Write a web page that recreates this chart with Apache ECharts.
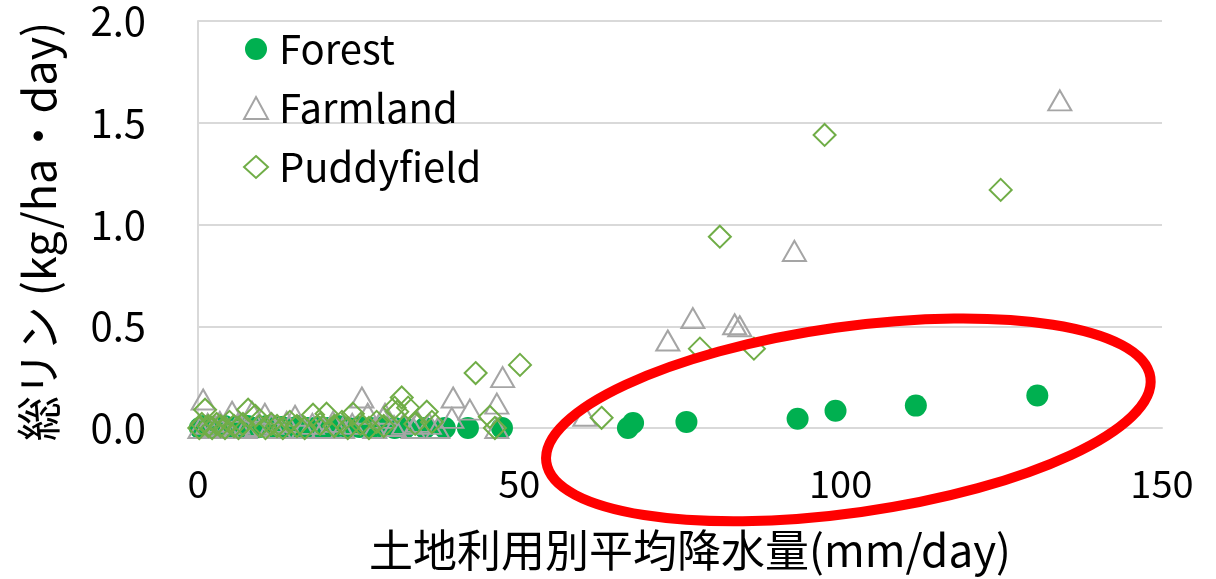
<!DOCTYPE html>
<html><head><meta charset="utf-8">
<script src="https://cdn.jsdelivr.net/npm/echarts@6/dist/echarts.min.js"></script>
<style>html,body{margin:0;padding:0;background:#fff}#c{width:1216px;height:579px}</style>
</head><body><div id="c"></div>
<script>
const seriesNames = ['Forest', 'Farmland', 'Puddyfield'];
const xTicks = [0, 50, 100, 150];
const yTicks = ['0.0', '0.5', '1.0', '1.5', '2.0'];
const xTitle = '土地利用別平均降水量(mm/day)';
const yTitle = '総リン (kg/ha・day)';

const forest = [[0.3,0.0],[0.9,0.01],[1.6,0.0],[2.4,0.005],[3.3,0.0],[4.1,0.01],[5.0,0.0],[5.9,0.005],[6.8,0.0],[7.7,0.01],[8.6,0.0],[9.6,0.005],[10.7,0.01],[11.8,0.0],[13.0,0.005],[14.3,0.0],[15.7,0.01],[17.1,0.0],[18.6,0.005],[20.2,0.0],[21.8,0.01],[23.4,0.0],[25.1,0.005],[26.9,0.0],[28.8,0.005],[30.6,0.0],[32.2,0.0],[35.3,0.0],[38.4,0.0],[42.0,0.0],[47.3,0.0],[66.9,0.0],[67.7,0.025],[76.0,0.03],[93.3,0.045],[99.2,0.085],[111.7,0.11],[130.6,0.16]];

const farmland = [[0.3,0.0],[0.8,0.14],[1.5,0.02],[2.6,0.01],[3.4,0.03],[4.5,0.0],[5.3,0.08],[6.2,0.02],[7.4,0.0],[8.4,0.08],[9.2,0.01],[10.4,0.07],[11.5,0.02],[12.6,0.0],[13.8,0.03],[15.1,0.06],[16.4,0.0],[17.8,0.02],[19.5,0.0],[21.0,0.03],[22.5,0.0],[24.0,0.02],[25.5,0.15],[26.4,0.07],[27.5,0.0],[28.8,0.05],[29.1,0.07],[30.5,0.01],[32.0,0.02],[33.5,0.0],[34.2,0.03],[36.0,0.02],[37.3,0.0],[39.5,0.05],[39.7,0.15],[42.3,0.09],[46.5,0.12],[46.5,0.0],[47.4,0.25],[60.2,0.06],[73.1,0.43],[77.0,0.54],[83.5,0.51],[84.3,0.50],[92.8,0.87],[134.1,1.61]];

const puddyfield = [[0.2,0.0],[0.6,0.02],[1.1,0.09],[1.6,0.01],[2.2,0.0],[2.9,0.02],[3.5,0.01],[4.2,0.0],[4.9,0.03],[5.6,0.01],[6.3,0.0],[7.0,0.02],[7.8,0.09],[8.9,0.06],[9.6,0.01],[10.5,0.0],[11.4,0.02],[12.3,0.01],[13.2,0.0],[14.3,0.03],[15.4,0.01],[16.6,0.0],[17.9,0.065],[19.0,0.02],[20.0,0.07],[21.2,0.01],[22.4,0.03],[23.3,0.0],[24.1,0.07],[25.3,0.02],[26.6,0.0],[27.8,0.03],[28.9,0.01],[30.6,0.1],[31.0,0.08],[31.7,0.15],[32.7,0.1],[33.8,0.02],[35.6,0.08],[36.4,0.03],[43.2,0.27],[45.4,0.055],[46.2,0.0],[50.1,0.31],[62.8,0.05],[78.1,0.39],[81.2,0.94],[86.5,0.39],[97.5,1.44],[124.9,1.17]];

// annotation ellipse (data-space center)
const ellipseCenter = [101.2, 0.04];

const chart = echarts.init(document.getElementById('c'), null, {renderer: 'canvas'});
const font = '"Noto Sans CJK JP", "Noto Sans", sans-serif';
const option = {
  backgroundColor: '#fff',
  animation: false,
  textStyle: {fontFamily: font},
  grid: {left: 198, right: 54, top: 21, bottom: 151, containLabel: false, outerBoundsMode: 'none'},
  legend: {
    orient: 'vertical', left: 238, top: 24, itemGap: 19,
    itemWidth: 24, itemHeight: 22,
    textStyle: {fontSize: 40, color: '#000', fontFamily: font, padding: [0, 0, 0, 6]},
    data: seriesNames
  },
  xAxis: {
    type: 'value', min: 0, max: 150, interval: 50,
    name: xTitle, nameLocation: 'middle', nameGap: 100,
    nameTextStyle: {fontSize: 44, color: '#000', fontFamily: font, padding: [0, 0, 0, 20]},
    axisLine: {show: true, lineStyle: {color: '#D9D9D9', width: 2}},
    axisTick: {show: false},
    splitLine: {show: false},
    axisLabel: {fontSize: 38, color: '#000', margin: 37, fontFamily: font,
      formatter: v => xTicks.includes(v) ? String(v) : ''}
  },
  yAxis: {
    type: 'value', min: 0, max: 2, interval: 0.5,
    name: yTitle, nameLocation: 'middle', nameGap: 137,
    nameTextStyle: {fontSize: 45, color: '#000', fontFamily: font, padding: [0, 14, 0, 0]},
    axisLine: {show: true, lineStyle: {color: '#D9D9D9', width: 2}},
    axisTick: {show: false},
    splitLine: {show: true, lineStyle: {color: '#D9D9D9', width: 2}},
    axisLabel: {fontSize: 40, color: '#000', margin: 52, fontFamily: font,
      formatter: v => yTicks[Math.round(v / 0.5)]}
  },
  series: [
    {name: seriesNames[0], type: 'scatter', data: forest, symbol: 'circle', symbolSize: 22,
     itemStyle: {color: '#00B050', opacity: 1}, z: 2},
    {name: seriesNames[1], type: 'scatter', data: farmland, symbol: 'triangle', symbolSize: [23, 20],
     itemStyle: {color: 'rgba(255,255,255,0)', borderColor: '#A5A5A5', borderWidth: 2, opacity: 1}, z: 3},
    {name: seriesNames[2], type: 'scatter', data: puddyfield, symbol: 'diamond', symbolSize: 22,
     itemStyle: {color: 'rgba(255,255,255,0)', borderColor: '#70AD47', borderWidth: 2, opacity: 1}, z: 4}
  ]
};
chart.setOption(option);
const c = chart.convertToPixel({gridIndex: 0}, ellipseCenter);
chart.setOption({
  graphic: [{
    type: 'ellipse', x: c[0], y: c[1], rotation: 8 * Math.PI / 180,
    shape: {cx: 0, cy: 0, rx: 305, ry: 93},
    style: {fill: 'none', stroke: '#FF0000', lineWidth: 10},
    z: 100, silent: true
  }]
});
</script></body></html>
